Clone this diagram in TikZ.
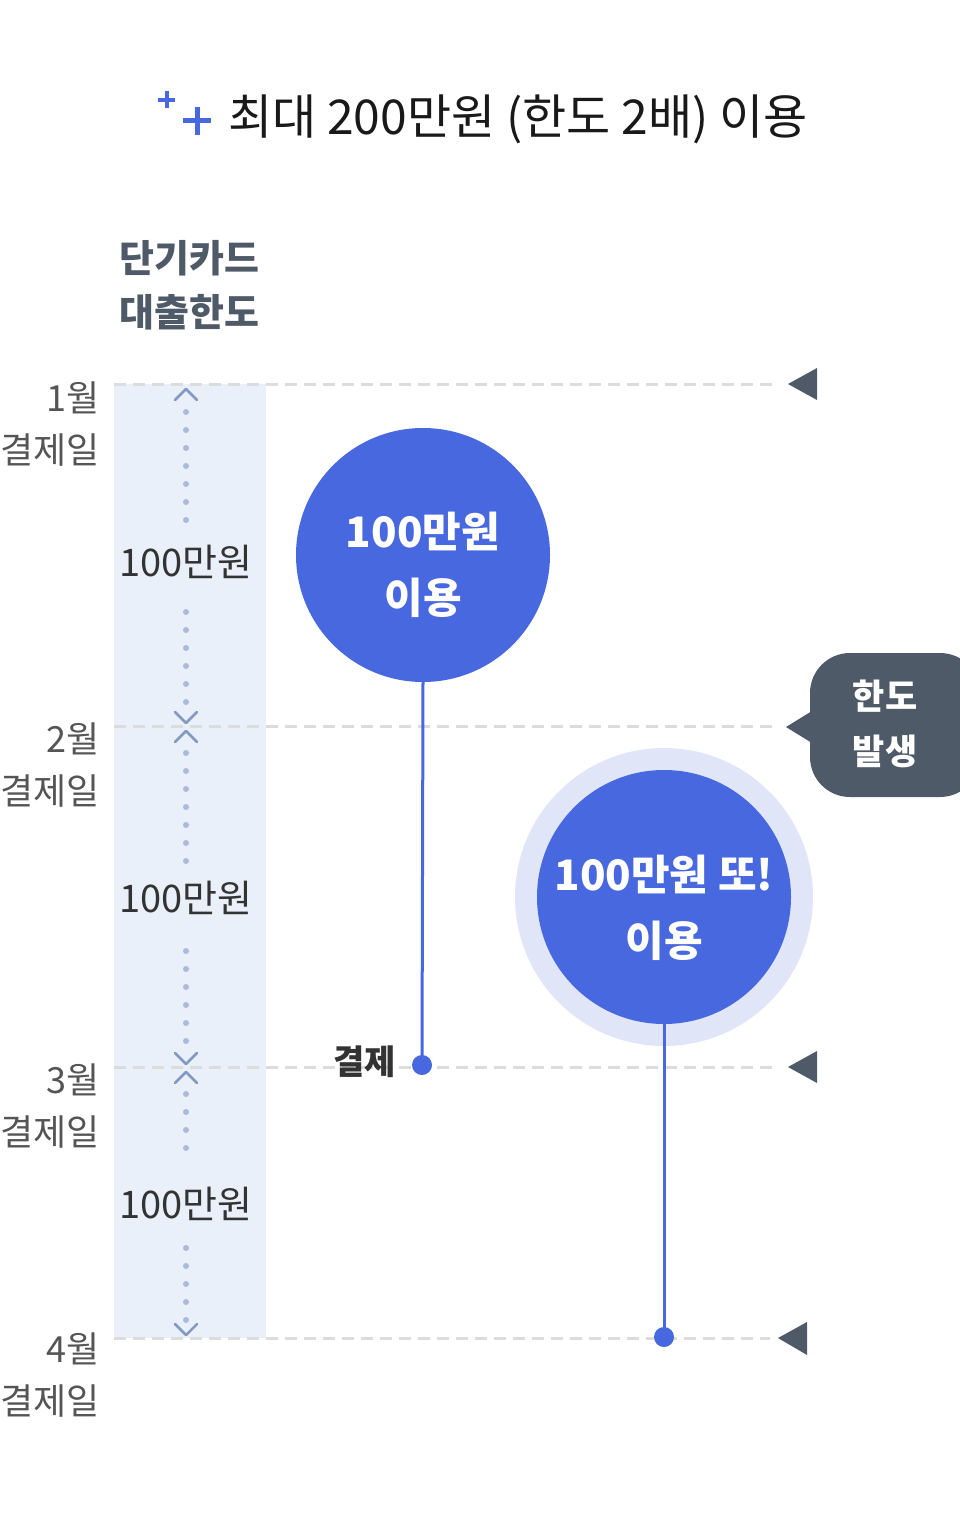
\documentclass[tikz,border=0pt]{standalone}
\usepackage{fontspec}
\newfontfamily\kr{Noto Sans CJK KR}
\definecolor{bandblue}{HTML}{EAF0FA}
\definecolor{mainblue}{HTML}{4868E0}
\definecolor{haloblue}{HTML}{E0E5F8}
\definecolor{slate}{HTML}{4F5A68}
\definecolor{dashgray}{HTML}{DCDCDC}
\definecolor{dotblue}{HTML}{A9BBDB}
\definecolor{chevblue}{HTML}{8299C2}
\definecolor{labelgray}{HTML}{555555}
\definecolor{textdark}{HTML}{333333}
\tikzset{
  gridline/.style={draw=dashgray, line width=3pt, dash pattern=on 12pt off 7pt},
  marker/.style={fill=slate, draw=none},
  monthlbl/.style={anchor=north east, text=labelgray, font=\kr\fontsize{36}{52}\selectfont, inner sep=0pt, align=right},
  amountlbl/.style={text=textdark, font=\kr\fontsize{38}{40}\selectfont, inner sep=0pt},
  bubble/.style={circle, fill=mainblue, minimum size=254pt, inner sep=0pt},
  bubbletext/.style={inner sep=0pt, text=white, align=center, font=\kr\bfseries\fontsize{42}{66}\selectfont},
  paydot/.style={circle, fill=mainblue, minimum size=20pt, inner sep=0pt},
  chev/.style={draw=chevblue, line width=2.5pt, line cap=round, line join=round},
  dotmark/.style={fill=dotblue, draw=none},
  blueline/.style={draw=mainblue, line width=3pt},
}
\begin{document}
\begin{tikzpicture}[x=1pt,y=-1pt]
\useasboundingbox (0,0) rectangle (960,1536);
% title
\draw[mainblue, line width=4pt] (158,100) -- (175,100) (166.5,91.5) -- (166.5,108.5);
\draw[mainblue, line width=5pt] (183,121) -- (211,121) (197,107) -- (197,135);
\node[anchor=west, inner sep=0pt, font=\kr\fontsize{48}{52}\selectfont, text=black!90] (title) at (228,119) {최대 200만원 (한도 2배) 이용};
% header
\node[anchor=north west, inner sep=0pt, align=left, text=slate, font=\kr\bfseries\fontsize{38}{54}\selectfont] (hdr) at (119,240) {단기카드\\대출한도};
% band
\fill[bandblue] (114,384) rectangle (266,1338);
% grid lines
\draw[gridline] (114,384) -- (776,384);
\draw[gridline] (114,726) -- (776,726);
\draw[gridline] (114,1067) -- (776,1067);
\draw[gridline] (114,1338) -- (770,1338);
% right markers
\fill[marker] (788,384) -- (817,368) -- (817,400) -- cycle;
\fill[marker] (788,1067) -- (817,1051) -- (817,1083) -- cycle;
\fill[marker] (778,1338) -- (807,1322) -- (807,1355) -- cycle;
% month labels
\node[monthlbl] (m1) at (100,382) {1월\\결제일};
\node[monthlbl] (m2) at (100,723) {2월\\결제일};
\node[monthlbl] (m3) at (100,1064) {3월\\결제일};
\node[monthlbl] (m4) at (100,1333) {4월\\결제일};
% chevrons
\draw[chev] (175,400) -- (186,389) -- (197,400);
\draw[chev] (175,712) -- (186,723) -- (197,712);
\draw[chev] (175,742) -- (186,731) -- (197,742);
\draw[chev] (175,1053) -- (186,1064) -- (197,1053);
\draw[chev] (175,1083) -- (186,1072) -- (197,1083);
\draw[chev] (175,1324) -- (186,1335) -- (197,1324);
% dots
\foreach \y in {412,430,...,520, 612,630,...,702, 753,771,...,861, 951,969,...,1041, 1094,1112,...,1148, 1248,1266,...,1320}
  \fill[dotmark] (186,\y) circle (3pt);
% amount labels
\node[amountlbl] (a1) at (186,562) {100만원};
\node[amountlbl] (a2) at (186,898) {100만원};
\node[amountlbl] (a3) at (186,1204) {100만원};
% bubble 1
\node[bubble] (b1) at (423,555) {};
\node[bubbletext] (t1) at (423,565) {100만원\\이용};
\node[paydot] (p1) at (422,1065) {};
\draw[blueline] (b1.south) -- (p1.center);
\node[anchor=east, inner sep=0pt, text=textdark, font=\kr\bfseries\fontsize{34}{38}\selectfont] (pay) at (396,1062) {결제};
% bubble 2
\fill[haloblue] (664,897) circle (149pt);
\node[bubble] (b2) at (664,897) {};
\node[bubbletext] (t2) at (664,908) {100만원 또!\\이용};
\node[paydot] (p2) at (664,1337) {};
\draw[blueline] (b2.south) -- (p2.center);
% callout
\fill[slate] (786,727) -- (812,711) -- (812,743) -- cycle;
\fill[slate, rounded corners=40pt] (810,653) rectangle (980,797);
\node[inner sep=0pt, align=center, text=white, font=\kr\bfseries\fontsize{35}{55}\selectfont] (call) at (885,724) {한도\\발생};
\end{tikzpicture}
\end{document}
